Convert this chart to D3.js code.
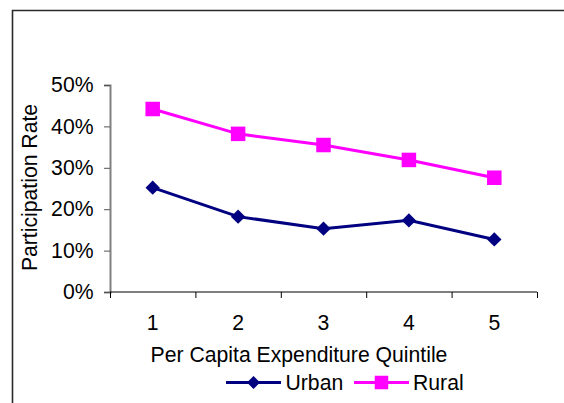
<!DOCTYPE html>
<html>
<head>
<meta charset="utf-8">
<script src="https://cdn.jsdelivr.net/npm/d3@7"></script>
<style>
  html, body { margin: 0; padding: 0; background: #fff; overflow: hidden; }
  svg { display: block; font-family: "Liberation Sans", Arial, sans-serif; }
</style>
</head>
<body>
<svg id="chart" width="564" height="403"></svg>
<script>
// Participation rate by per capita expenditure quintile
const quintiles = ["1", "2", "3", "4", "5"];
const urban = [0.252, 0.182, 0.153, 0.173, 0.127];
const rural = [0.442, 0.382, 0.355, 0.319, 0.276];
const yTicks = [0, 0.1, 0.2, 0.3, 0.4, 0.5];
const seriesNames = ["Urban", "Rural"];
const seriesColors = ["#000080", "#FF00FF"];

const svg = d3.select("#chart");
const fontSize = "21.2px";

// outer frame: top and left edges (the rest runs past the canvas)
svg.append("path")
  .attr("d", "M12.5,403V10.5H564")
  .attr("fill", "none").attr("stroke", "#2a2a2a").attr("stroke-width", 1.6);

const plot = { left: 110, right: 537, top: 85, bottom: 292 };

const x = d3.scaleBand().domain(quintiles).range([plot.left, plot.right]);
const xEdges = d3.scaleLinear().domain([0, quintiles.length]).range([plot.left, plot.right]);
const y = d3.scaleLinear().domain([0, 0.5]).range([plot.bottom, plot.top]);

// y axis
const yAxis = svg.append("g")
  .attr("transform", `translate(${plot.left},0)`)
  .call(d3.axisLeft(y).tickValues(yTicks).tickFormat(d3.format(".0%")).tickSize(6).tickPadding(10.5));
yAxis.select(".domain").attr("stroke", "#808080").attr("stroke-width", 2);
yAxis.selectAll(".tick line").attr("stroke", "#555").attr("stroke-width", 1);
yAxis.selectAll("text").attr("font-size", fontSize).attr("fill", "#000")
  .attr("font-family", "Liberation Sans, Arial, sans-serif");

// x axis: tick marks between categories
const xAxisTicks = svg.append("g")
  .attr("transform", `translate(0,${plot.bottom})`)
  .call(d3.axisBottom(xEdges).ticks(quintiles.length).tickFormat("").tickSize(6).tickSizeOuter(6));
xAxisTicks.select(".domain").attr("stroke", "#000").attr("stroke-width", 1.2)
  .attr("d", `M${plot.left},0H${plot.right}`);
xAxisTicks.selectAll(".tick line").attr("stroke", "#000");

// x axis: category labels
const xAxisLabels = svg.append("g")
  .attr("transform", `translate(0,${plot.bottom})`)
  .call(d3.axisBottom(x).tickSize(0).tickPadding(23));
xAxisLabels.select(".domain").remove();
xAxisLabels.selectAll("text").attr("font-size", fontSize).attr("fill", "#000")
  .attr("font-family", "Liberation Sans, Arial, sans-serif");

// axis titles
svg.append("text")
  .attr("transform", "translate(37,187.5) rotate(-90)")
  .attr("text-anchor", "middle")
  .attr("font-size", fontSize)
  .attr("fill", "#000")
  .text("Participation Rate");

svg.append("text")
  .attr("x", 299).attr("y", 361.5)
  .attr("text-anchor", "middle")
  .attr("font-size", fontSize)
  .attr("fill", "#000")
  .text("Per Capita Expenditure Quintile");

// series
const cx = d => x(d) + x.bandwidth() / 2;
const line = d3.line().x((d, i) => cx(quintiles[i])).y(d => y(d));

function drawDiamond(g, px, py, r, color) {
  g.append("path")
    .attr("d", `M${px},${py - r}L${px + r},${py}L${px},${py + r}L${px - r},${py}Z`)
    .attr("fill", color);
}
function drawSquare(g, px, py, s, color) {
  g.append("rect")
    .attr("x", px - s / 2).attr("y", py - s / 2)
    .attr("width", s).attr("height", s)
    .attr("fill", color);
}

const gUrban = svg.append("g");
gUrban.append("path").datum(urban)
  .attr("d", line).attr("fill", "none")
  .attr("stroke", seriesColors[0]).attr("stroke-width", 3);
urban.forEach((v, i) => drawDiamond(gUrban, cx(quintiles[i]), y(v), 7.2, seriesColors[0]));

const gRural = svg.append("g");
gRural.append("path").datum(rural)
  .attr("d", line).attr("fill", "none")
  .attr("stroke", seriesColors[1]).attr("stroke-width", 3);
rural.forEach((v, i) => drawSquare(gRural, cx(quintiles[i]), y(v), 14.5, seriesColors[1]));

// legend
const legend = svg.append("g");
const legendY = 382.5;
const legendItems = [
  { name: seriesNames[0], color: seriesColors[0], x0: 226, x1: 281, tx: 285.5, marker: "diamond" },
  { name: seriesNames[1], color: seriesColors[1], x0: 354, x1: 409, tx: 413, marker: "square" }
];
legendItems.forEach(item => {
  legend.append("line")
    .attr("x1", item.x0).attr("x2", item.x1)
    .attr("y1", legendY).attr("y2", legendY)
    .attr("stroke", item.color).attr("stroke-width", 3);
  const mx = (item.x0 + item.x1) / 2;
  if (item.marker === "diamond") drawDiamond(legend, mx, legendY, 6.5, item.color);
  else drawSquare(legend, mx, legendY, 13.5, item.color);
  legend.append("text")
    .attr("x", item.tx).attr("y", 389.5)
    .attr("font-size", fontSize)
    .attr("fill", "#000")
    .text(item.name);
});
</script>
</body>
</html>
